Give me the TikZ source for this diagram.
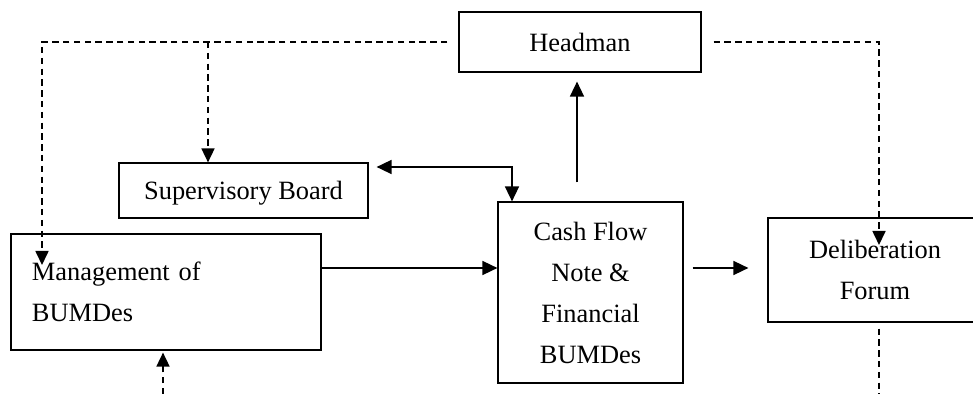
\documentclass[tikz,border=0pt]{standalone}
\usepackage{fontspec}
\setmainfont{Liberation Serif}
\usetikzlibrary{positioning,arrows.meta,calc}

\begin{document}
\begin{tikzpicture}[
    x=0.5pt, y=-0.5pt,
    every node/.style={font=\fontsize{13.2}{20.5}\selectfont},
    unit/.style={draw, line width=0.6pt, align=center, inner sep=0pt},
    flow/.style={-{Triangle[length=7.5pt,width=7pt]}, line width=0.8pt},
    flowboth/.style={{Triangle[length=7.5pt,width=7pt]}-{Triangle[length=7.5pt,width=7pt]}, line width=0.8pt},
    ctrl/.style={-{Triangle[length=7pt,width=6.5pt]}, line width=0.85pt, dash pattern=on 3.2pt off 2.2pt}
]
  \useasboundingbox (0,0) rectangle (973,394);
  \node[unit, minimum width=121pt, minimum height=30pt] (head) at (580,42) {Headman};
  \node[unit, minimum width=124.5pt, minimum height=27.5pt, text depth=0pt] (sup) at (243.5,190.5) {Supervisory Board};
  \node[unit, align=left, text width=134pt, inner xsep=10.5pt, minimum height=58pt] (mgmt) at (166,292) {Management of\\BUMDes};
  \node[unit, minimum width=92.5pt, minimum height=90.5pt] (cash) at (590.5,292.5) {Cash Flow\\Note \&\\Financial\\BUMDes};
  \node[unit, minimum width=107pt, minimum height=52pt] (delib) at (875,270) {Deliberation\\Forum};

  % helper points for the lines
  \coordinate (mgmtin) at (42,265);
  \coordinate (supin) at (208,42);
  \coordinate (delibin) at (879,245);
  \coordinate (delibout) at (879,394);
  \coordinate (mgmtfeed) at (163,394);
  \coordinate (midrow) at (0,268);
  \coordinate (link) at (512,167);
  \coordinate (up) at (577,0);

  % dashed lines from the headman
  \draw[ctrl] ($(head.west)+(-11,0)$) -| (mgmtin);
  \draw[ctrl] (supin) -- (supin |- sup.north);
  \draw[ctrl] ($(head.east)+(12,0)$) -| (delibin);
  \draw[ctrl, -] ($(delib.south -| delibout)+(0,6)$) -- (delibout);
  \draw[ctrl] (mgmtfeed) -- ($(mgmt.south -| mgmtfeed)+(0,2)$);

  % solid flows
  \draw[flow] (mgmt.east |- midrow) -- (cash.west |- midrow);
  \draw[flow] ($(cash.east |- midrow)+(9,0)$) -- ($(delib.west |- midrow)+(-19,0)$);
  \draw[flowboth] ($(sup.east |- link)+(8,0)$) -| (cash.north -| link);
  \draw[flow] ($(cash.north -| up)+(0,-19)$) -- ($(head.south -| up)+(0,9)$);
\end{tikzpicture}
\end{document}
